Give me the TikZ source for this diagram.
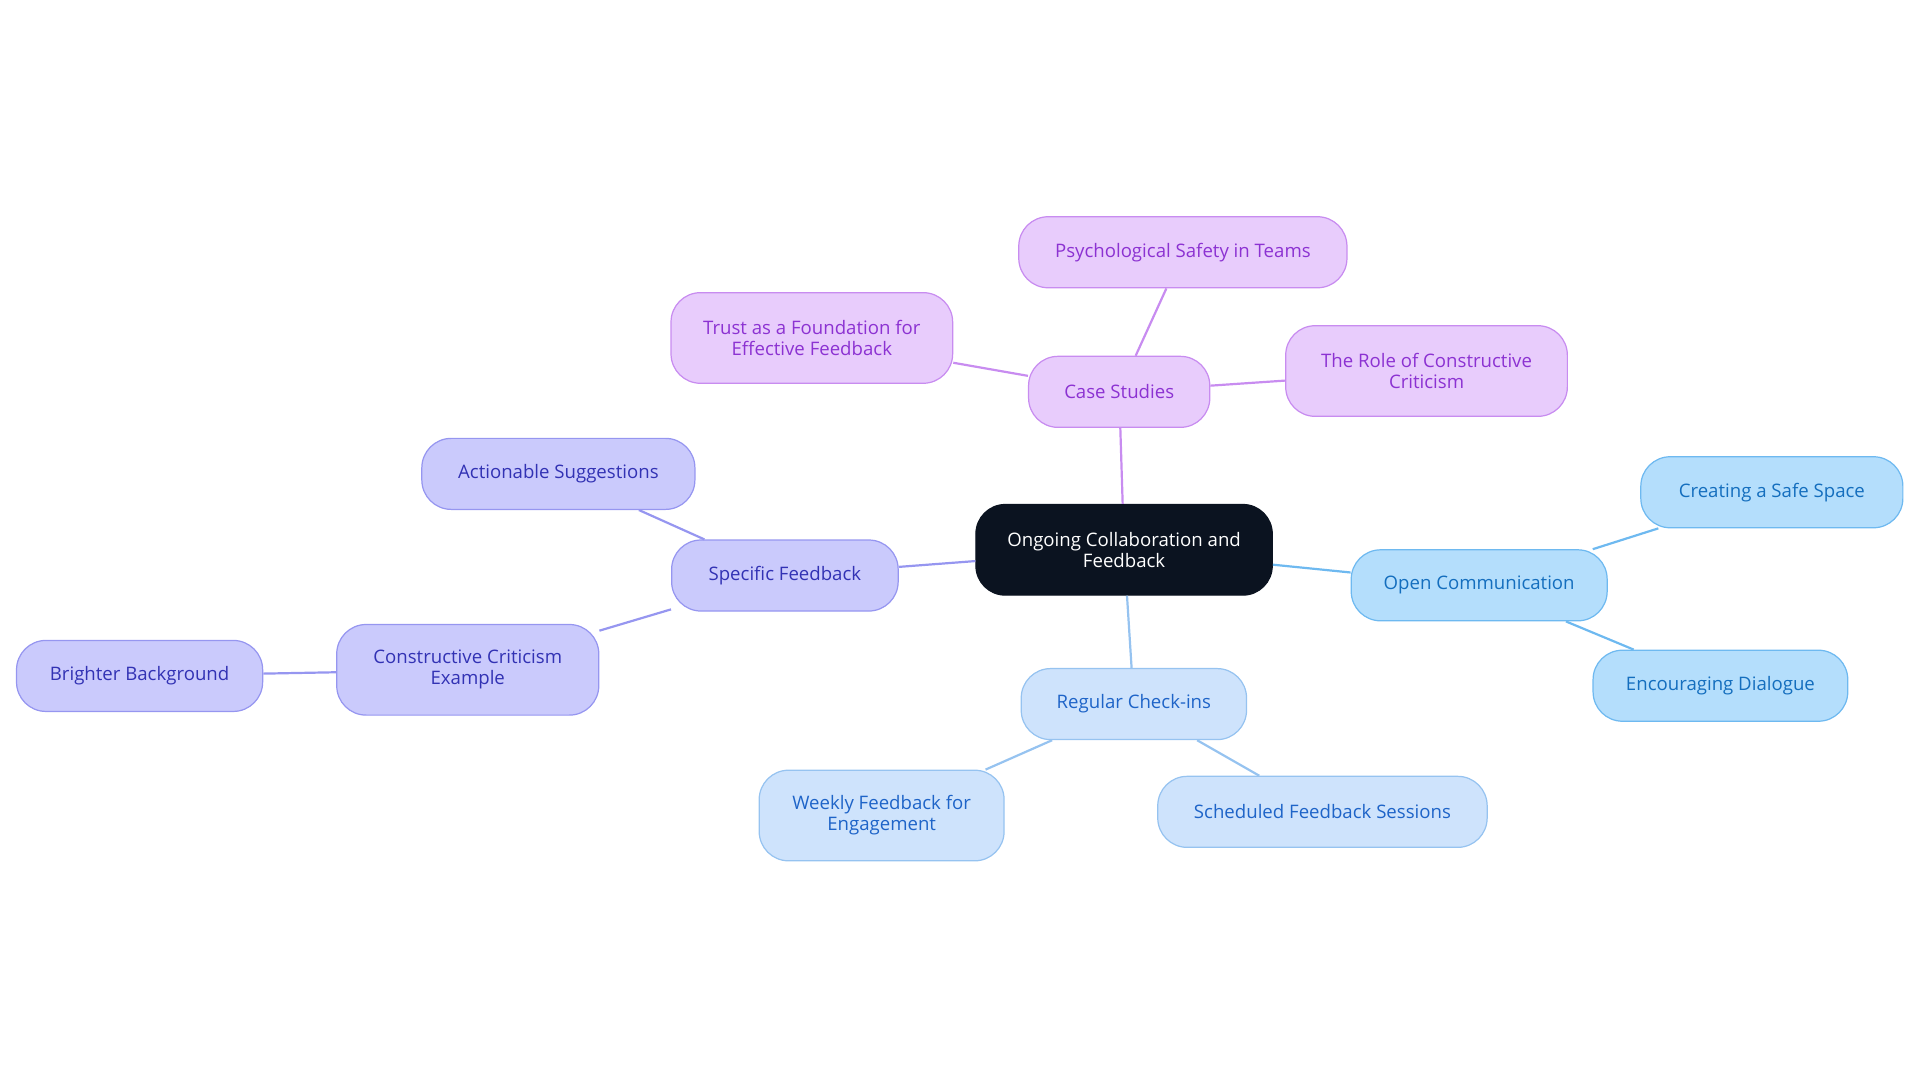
\documentclass[tikz,border=0pt]{standalone}
\usepackage{fontspec}
\setmainfont{Open Sans}
\definecolor{pf}{RGB}{232,204,252}\definecolor{pd}{RGB}{200,140,240}\definecolor{pt}{RGB}{140,50,210}
\definecolor{bf}{RGB}{202,202,252}\definecolor{bd}{RGB}{150,150,240}\definecolor{bt}{RGB}{50,50,180}
\definecolor{sf}{RGB}{180,222,252}\definecolor{sd}{RGB}{110,185,240}\definecolor{st}{RGB}{20,110,190}
\definecolor{lf}{RGB}{206,227,252}\definecolor{ld}{RGB}{150,195,240}\definecolor{lt}{RGB}{30,100,200}
\definecolor{rt}{RGB}{11,19,32}
\begin{document}
\begin{tikzpicture}[x=0.5pt,y=-0.5pt,
 base/.style={rounded corners=12pt,align=center,font=\fontsize{7.6}{8.6}\selectfont,inner sep=0pt,line width=0.5pt},
 pur/.style={base,fill=pf,draw=pd,text=pt},
 blu/.style={base,fill=bf,draw=bd,text=bt},
 sky/.style={base,fill=sf,draw=sd,text=st},
 lbl/.style={base,fill=lf,draw=ld,text=lt},
 ep/.style={pd,line width=0.9pt},
 eb/.style={bd,line width=0.9pt},
 es/.style={sd,line width=0.9pt},
 el/.style={ld,line width=0.9pt}]
\useasboundingbox (0,0) rectangle (1568,884);
\def\nd#1#2#3#4#5#6#7{\node[#1,minimum width=#5*0.5pt,minimum height=#6*0.5pt] (#2) at (#3,#4) {#7};}
\node[base,fill=rt,draw=rt,text=white,minimum width=121pt,minimum height=37pt] (root) at (918,449) {Ongoing Collaboration and\\Feedback};
\nd{pur}{cs}{914}{320}{148}{58}{Case Studies}
\nd{pur}{ps}{966}{206}{268}{58}{Psychological Safety in Teams}
\nd{pur}{tr}{663}{276}{230}{74}{Trust as a Foundation for\\Effective Feedback}
\nd{pur}{ro}{1165}{303}{230}{74}{The Role of Constructive\\Criticism}
\nd{blu}{sfb}{641}{470}{185}{58}{Specific Feedback}
\nd{blu}{ac}{456}{387}{223}{58}{Actionable Suggestions}
\nd{blu}{cc}{382}{547}{214}{74}{Constructive Criticism\\Example}
\nd{blu}{bb}{114}{552}{201}{58}{Brighter Background}
\nd{sky}{oc}{1208}{478}{209}{58}{Open Communication}
\nd{sky}{ss}{1447}{402}{214}{58}{Creating a Safe Space}
\nd{sky}{ed}{1405}{560}{208}{58}{Encouraging Dialogue}
\nd{lbl}{rc}{926}{575}{184}{58}{Regular Check-ins}
\nd{lbl}{wf}{720}{666}{200}{74}{Weekly Feedback for\\Engagement}
\nd{lbl}{sc}{1080}{663}{269}{58}{Scheduled Feedback Sessions}
\draw[ep] (root) -- (cs); \draw[ep] (cs) -- (ps); \draw[ep] (cs) -- (tr); \draw[ep] (cs) -- (ro);
\draw[eb] (root) -- (sfb); \draw[eb] (sfb) -- (ac); \draw[eb] (sfb) -- (cc); \draw[eb] (cc) -- (bb);
\draw[es] (root) -- (oc); \draw[es] (oc) -- (ss); \draw[es] (oc) -- (ed);
\draw[el] (root) -- (rc); \draw[el] (rc) -- (wf); \draw[el] (rc) -- (sc);
\end{tikzpicture}
\end{document}
